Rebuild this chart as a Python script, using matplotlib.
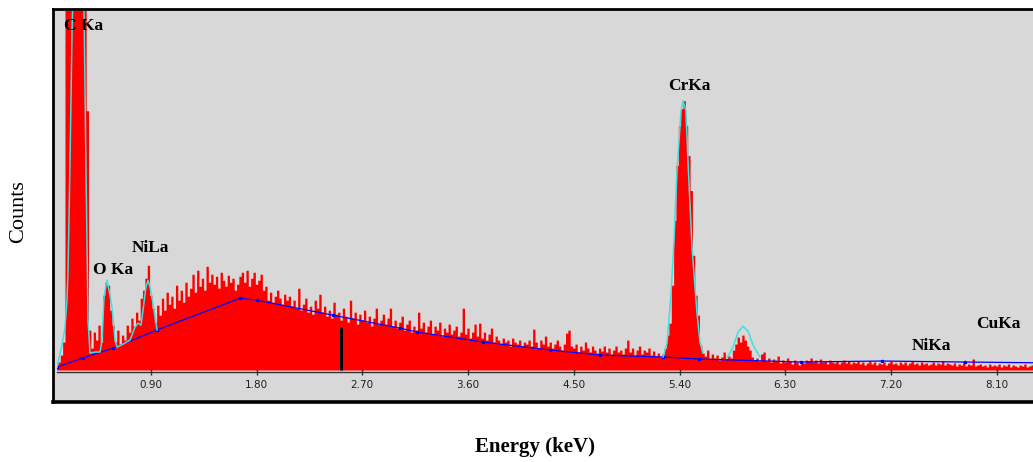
import numpy as np
import matplotlib
matplotlib.use("Agg")
import matplotlib.pyplot as plt

# spectrum channels: 0.02 keV wide, first channel at 0.10 keV
E_START = 0.10
E_STEP = 0.02
counts = [
    3, 8, 15, 28, 420, 450, 450, 450, 450, 450, 450, 440, 420, 260, 40, 22, 38, 30, 45, 28,        # 0.10-0.48
    75, 88, 85, 60, 45, 28, 40, 25, 35, 30, 45, 38, 52, 44, 58, 50, 72, 80, 92, 105,               # 0.50-0.88
    75, 62, 48, 65, 55, 72, 60, 78, 66, 74, 62, 85, 70, 80, 68, 88, 74, 82, 96, 78,                # 0.90-1.28
    100, 84, 92, 80, 104, 88, 96, 86, 94, 82, 98, 90, 84, 95, 88, 92, 80, 86, 94, 98,              # 1.30-1.68
    88, 100, 84, 92, 98, 86, 90, 96, 80, 84, 70, 78, 68, 74, 80, 72, 66, 76, 70, 74,               # 1.70-2.08
    64, 70, 62, 82, 60, 66, 72, 58, 64, 56, 70, 62, 76, 58, 64, 54, 60, 52, 68, 56,                # 2.10-2.48
    58, 50, 62, 54, 48, 70, 52, 58, 46, 56, 50, 60, 48, 54, 44, 52, 62, 46, 50, 56,                # 2.50-2.88
    46, 52, 62, 44, 50, 42, 48, 54, 40, 46, 50, 38, 44, 40, 58, 42, 48, 38, 44, 50,                # 2.90-3.28
    36, 44, 40, 48, 34, 42, 38, 46, 36, 40, 44, 34, 38, 62, 36, 42, 32, 38, 46, 34,                # 3.30-3.68
    47, 32, 38, 30, 36, 42, 28, 34, 30, 26, 32, 28, 30, 24, 32, 28, 26, 30, 24, 28,                # 3.70-4.08
    26, 30, 24, 41, 28, 22, 30, 26, 34, 24, 28, 22, 26, 30, 24, 20, 26, 37, 40, 24,                # 4.10-4.48
    22, 26, 18, 24, 20, 28, 22, 18, 24, 20, 17, 22, 19, 24, 18, 22, 16, 20, 24, 18,                # 4.50-4.88
    20, 16, 22, 30, 18, 22, 15, 20, 24, 16, 20, 18, 22, 15, 19, 14, 17, 13, 16, 22,                # 4.90-5.28
    35, 47, 85, 150, 205, 245, 262, 270, 245, 215, 180, 115, 75, 55, 25, 17, 14, 20, 12, 16,       # 5.30-5.68
    12, 15, 10, 13, 18, 11, 14, 12, 20, 26, 33, 28, 35, 30, 24, 20, 13, 10, 12, 9,                 # 5.70-6.08
    16, 18, 9, 12, 8, 11, 9, 14, 7, 10, 8, 12, 9, 6, 10, 8, 5, 9, 7, 10,                           # 6.10-6.48
    9, 12, 8, 10, 7, 11, 8, 9, 6, 10, 8, 7, 9, 6, 8, 10, 7, 9, 6, 8,                               # 6.50-6.88
    7, 9, 6, 8, 5, 7, 9, 6, 8, 5, 7, 6, 8, 5, 7, 9, 6, 7, 5, 8,                                    # 6.90-7.28
    6, 8, 5, 7, 9, 6, 7, 5, 8, 6, 7, 5, 6, 8, 5, 7, 6, 9, 5, 7,                                    # 7.30-7.68
    6, 5, 7, 4, 6, 5, 8, 4, 6, 5, 11, 4, 5, 6, 4, 5, 3, 6, 4, 5,                                   # 7.70-8.08
    4, 6, 3, 5, 4, 6, 3, 5, 4, 3, 5, 4, 6, 3, 4, 5, 3, 4, 5, 3,                                    # 8.10-8.48
    4, 3, 5, 4, 3, 4, 3, 4,                                                                        # 8.50-8.64
]

# background fit (blue)
bg_E = [0.10, 0.32, 0.58, 0.95, 1.66, 1.80, 2.45, 3.02, 3.17, 3.73, 4.30, 4.72, 5.26, 5.57, 6.43, 7.12, 7.83, 8.64]
bg_h = [3, 12, 22, 40, 72, 70, 55, 42, 38, 28, 20, 15, 13, 11, 8, 9, 8, 7]

# peak fits (cyan)
fitA_E = [0.102, 0.119, 0.145, 0.170, 0.187, 0.196, 0.213, 0.230, 0.247, 0.281, 0.315, 0.332, 0.349,
          0.366, 0.383, 0.426, 0.468, 0.485, 0.502, 0.519, 0.528, 0.536, 0.553, 0.570, 0.596, 0.613,
          0.681, 0.723, 0.766, 0.791, 0.817, 0.834, 0.859, 0.877, 0.894, 0.919, 0.945, 0.953]
fitA_h = [3, 12, 25, 43, 70, 100, 210, 340, 420, 450, 420, 360, 200,
          50, 17, 18, 18, 30, 73, 85, 90, 85, 75, 63, 30, 23,
          27, 30, 43, 47, 45, 60, 83, 90, 83, 67, 47, 40]
fitCr_E = [5.260, 5.294, 5.328, 5.353, 5.379, 5.413, 5.430, 5.455, 5.472, 5.506, 5.549, 5.574, 5.600]
fitCr_h = [13, 27, 77, 130, 200, 260, 270, 260, 210, 123, 57, 28, 17]
fitCrb_E = [5.804, 5.855, 5.898, 5.940, 5.983, 6.026, 6.085]
fitCrb_h = [12, 23, 38, 44, 39, 25, 13]

cursor_E = 2.52
cursor_h = 43

peak_names = ["C Ka", "O Ka", "NiLa", "CrKa", "NiKa", "CuKa"]
label_E = [0.162, 0.409, 0.740, 5.302, 7.379, 7.923]
label_h = [345, 100, 122, 285, 24, 46]

tick_E = [0.90, 1.80, 2.70, 3.60, 4.50, 5.40, 6.30, 7.20, 8.10]

energy = E_START + E_STEP * np.arange(len(counts))

GRAY = "#d8d8d8"
W, H = 1033, 462
fig = plt.figure(figsize=(W / 100, H / 100), dpi=100)

# outer frame
frame = fig.add_axes([53 / W, (H - 402) / H, (1062 - 53) / W, (402 - 9) / H])
frame.set_facecolor(GRAY)
frame.set_xticks([]); frame.set_yticks([])
for s in frame.spines.values():
    s.set_linewidth(2.0); s.set_color("black")
frame.spines["bottom"].set_linewidth(2.6)

ax = fig.add_axes([57 / W, (H - 372) / H, (1062 - 57) / W, (372 - 11) / H])
ax.set_facecolor(GRAY)
ax.fill_between(energy, 0, counts, step="mid", color="#ff0000", linewidth=0)
ax.plot(bg_E, bg_h, color="#0000ff", lw=0.9, marker="s", ms=1.4)
ax.plot(fitA_E, fitA_h, color="#40e0e0", lw=1.1)
ax.plot(fitCr_E, fitCr_h, color="#40e0e0", lw=1.1)
ax.plot(fitCrb_E, fitCrb_h, color="#40e0e0", lw=1.1)
ax.vlines(cursor_E, 0, cursor_h, color="black", lw=2.2)

for name, e, h in zip(peak_names, label_E, label_h):
    ax.text(e, h, name, ha="left", va="center", family="Liberation Serif",
            fontweight="bold", fontsize=12.5, color="black")

ax.set_xlim(0.102, (1062 - 45) / 117.5)
ax.set_ylim(-2, 360)
for k in ["top", "left", "right"]:
    ax.spines[k].set_visible(False)
ax.spines["bottom"].set_color("#303030")
ax.spines["bottom"].set_linewidth(1.0)
ax.set_yticks([])
ax.set_xticks(tick_E)
ax.set_xticklabels(["%.2f" % t for t in tick_E])
ax.tick_params(axis="x", direction="inout", length=4, width=1, color="#303030",
               pad=4, labelsize=7.5, labelcolor="#202020")

fig.text(19 / W, 1 - 212 / H, "Counts", rotation=90, ha="center", va="center",
         family="Liberation Serif", fontsize=16)
fig.text(535 / W, 1 - 447 / H, "Energy (keV)", ha="center", va="center",
         family="Liberation Serif", fontweight="bold", fontsize=15)

fig.savefig("out.png", dpi=100)
